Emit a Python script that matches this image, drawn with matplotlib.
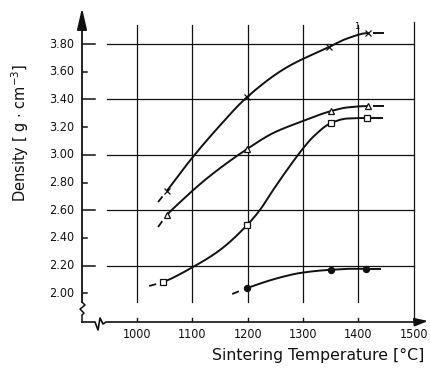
import numpy as np
import matplotlib.pyplot as plt

# marker points
x_cross = [1054, 1199, 1347, 1418]
y_cross = [2.74, 3.42, 3.78, 3.88]
x_tri = [1054, 1199, 1351, 1418]
y_tri = [2.565, 3.04, 3.315, 3.352]
x_sq = [1047, 1199, 1351, 1416]
y_sq = [2.082, 2.493, 3.23, 3.266]
x_dot = [1199, 1351, 1414]
y_dot = [2.038, 2.168, 2.175]

# points along the drawn curves
cx_cross = [1038, 1054, 1096, 1145, 1199, 1270, 1347, 1380, 1418, 1445]
cy_cross = [2.659, 2.74, 2.96, 3.19, 3.417, 3.63, 3.778, 3.84, 3.879, 3.879]
cx_tri = [1038, 1054, 1078, 1127, 1199, 1246, 1295, 1351, 1380, 1418, 1445]
cy_tri = [2.479, 2.565, 2.659, 2.832, 3.042, 3.157, 3.237, 3.316, 3.342, 3.352, 3.352]
cx_sq = [1022, 1047, 1101, 1150, 1199, 1222, 1246, 1271, 1295, 1318, 1351, 1380, 1416, 1443]
cy_sq = [2.053, 2.082, 2.19, 2.313, 2.493, 2.601, 2.746, 2.89, 3.02, 3.128, 3.23, 3.262, 3.266, 3.266]
cx_dot = [1172, 1199, 1262, 1295, 1336, 1351, 1385, 1414, 1439]
cy_dot = [1.995, 2.038, 2.118, 2.147, 2.166, 2.17, 2.177, 2.177, 2.177]

grid_x = [1000, 1100, 1200, 1300, 1400]
grid_y = [2.2, 2.6, 3.0, 3.4, 3.8]
minor_y = [2.0, 2.4, 2.8, 3.2, 3.6]
xtick_labels = ['1000', '1100', '1200', '1300', '1400', '1500']
ytick_vals = [2.0, 2.2, 2.4, 2.6, 2.8, 3.0, 3.2, 3.4, 3.6, 3.8]

XMIN, XMAX = 900.5, 1526
YMIN, YMAX = 1.793, 4.06
PX = 100 / 55.3     # one pixel in degrees
PY = 0.2 / 27.7     # one pixel in density


def pchip(x, y, n=400):
    x = np.asarray(x, float)
    y = np.asarray(y, float)
    h = np.diff(x)
    d = np.diff(y) / h
    m = np.zeros_like(x)
    m[0], m[-1] = d[0], d[-1]
    for i in range(1, len(x) - 1):
        if d[i - 1] * d[i] > 0:
            w1 = 2 * h[i] + h[i - 1]
            w2 = h[i] + 2 * h[i - 1]
            m[i] = (w1 + w2) / (w1 / d[i - 1] + w2 / d[i])
    xs = np.linspace(x[0], x[-1], n)
    idx = np.clip(np.searchsorted(x, xs) - 1, 0, len(x) - 2)
    t = (xs - x[idx]) / h[idx]
    h00 = 2 * t ** 3 - 3 * t ** 2 + 1
    h10 = t ** 3 - 2 * t ** 2 + t
    h01 = -2 * t ** 3 + 3 * t ** 2
    h11 = t ** 3 - t ** 2
    ys = h00 * y[idx] + h10 * h[idx] * m[idx] + h01 * y[idx + 1] + h11 * h[idx] * m[idx + 1]
    return xs, ys


fig = plt.figure(figsize=(4.3, 3.68), dpi=100)
ax = fig.add_axes([82 / 430, 46 / 368, 346 / 430, 314 / 368])
ax.set_xlim(XMIN, XMAX)
ax.set_ylim(YMIN, YMAX)
ax.axis('off')

k = '#111111'
tick_font = dict(family='DejaVu Sans', fontstretch='condensed', fontsize=9, color=k)

# grid
for gx in grid_x:
    ax.plot([gx, gx], [1.937, 3.937], color=k, lw=0.9)
ax.plot([1500, 1500], [YMIN, 3.96], color=k, lw=0.9)
for gy in grid_y:
    ax.plot([XMIN + 25 * PX, 1500], [gy, gy], color=k, lw=0.9)

# y axis with break
ax.plot([XMIN, XMIN], [3.93, 1.937], color=k, lw=1.3, clip_on=False)
zz = [(0, 0), (3, 3), (-2, 7), (2, 11), (0, 13), (0, 20)]
ax.plot([XMIN + a * PX for a, b in zz], [1.937 - b * PY for a, b in zz], color=k, lw=1.1, clip_on=False)
ax.annotate('', xy=(XMIN, YMAX), xytext=(XMIN, 3.9),
            arrowprops=dict(arrowstyle='-|>,head_length=1.3,head_width=0.3', color=k, lw=1.3,
                            shrinkA=0, shrinkB=0))
# x axis with break
zx = [(0, 0), (13, 0), (16, -8), (18, 4), (21, -2), (24, 0), (333, 0)]
ax.plot([XMIN + a * PX for a, b in zx], [YMIN + b * PY for a, b in zx], color=k, lw=1.2, clip_on=False)
ax.annotate('', xy=(XMAX, YMIN + 1 * PY), xytext=(XMAX - 12 * PX, YMIN),
            arrowprops=dict(arrowstyle='-|>,head_length=0.8,head_width=0.25', color=k, lw=1.2,
                            shrinkA=0, shrinkB=0),
            annotation_clip=False)

# ticks
for gy in grid_y:
    ax.plot([XMIN, XMIN + 13 * PX], [gy, gy], color=k, lw=1.1)
for my in minor_y:
    ax.plot([XMIN, XMIN + 5 * PX], [my, my], color=k, lw=1.1)
for i, lab in enumerate(xtick_labels):
    tx = 1000 + 100 * i
    ax.plot([tx, tx], [YMIN, YMIN + 4 * PY], color=k, lw=1.0)
    ax.text(tx, YMIN - 12 * PY, lab, ha='center', va='center', **tick_font)
for yv in ytick_vals:
    ax.text(XMIN - 8 * PX, yv, '%.2f' % yv, ha='right', va='center', **tick_font)

# curves
series = [
    (cx_cross, cy_cross, x_cross, y_cross, dict(marker='x', ms=4, mew=0.9, mfc='none')),
    (cx_tri, cy_tri, x_tri, y_tri, dict(marker='^', ms=5, mew=0.9, mfc='white')),
    (cx_sq, cy_sq, x_sq, y_sq, dict(marker='s', ms=4.5, mew=0.9, mfc='white')),
    (cx_dot, cy_dot, x_dot, y_dot, dict(marker='o', ms=4.5, mew=0.8, mfc=k)),
]
for cx, cy, mx, my, mk in series:
    sx, sy = pchip(cx, cy)
    first, last = mx[0], mx[-1]
    lead = sx <= first - 4 * PX
    body = (sx >= first) & (sx <= last)
    tail = sx >= last + 5 * PX
    ax.plot(sx[lead], sy[lead], color=k, lw=1.3, linestyle=(0, (4, 2.5)))
    ax.plot(sx[body], sy[body], color=k, lw=1.4)
    ax.plot(sx[tail], sy[tail], color=k, lw=1.4)
    ax.plot(mx, my, linestyle='none', color=k, mec=k, zorder=5, **mk)

ax.text(1398, 3.925, '1', ha='center', va='center', fontsize=6, color=k)

fig.text(424 / 430, 1 - 355 / 368, 'Sintering Temperature [°C]', ha='right', va='center',
         fontsize=11.3, color=k)
fig.text(20 / 430, 1 - 133 / 368, 'Density [ g $\\cdot$ cm$^{-3}$]', rotation=90,
         ha='center', va='center', fontsize=10.5, color=k)

fig.savefig('out.png', dpi=100)
